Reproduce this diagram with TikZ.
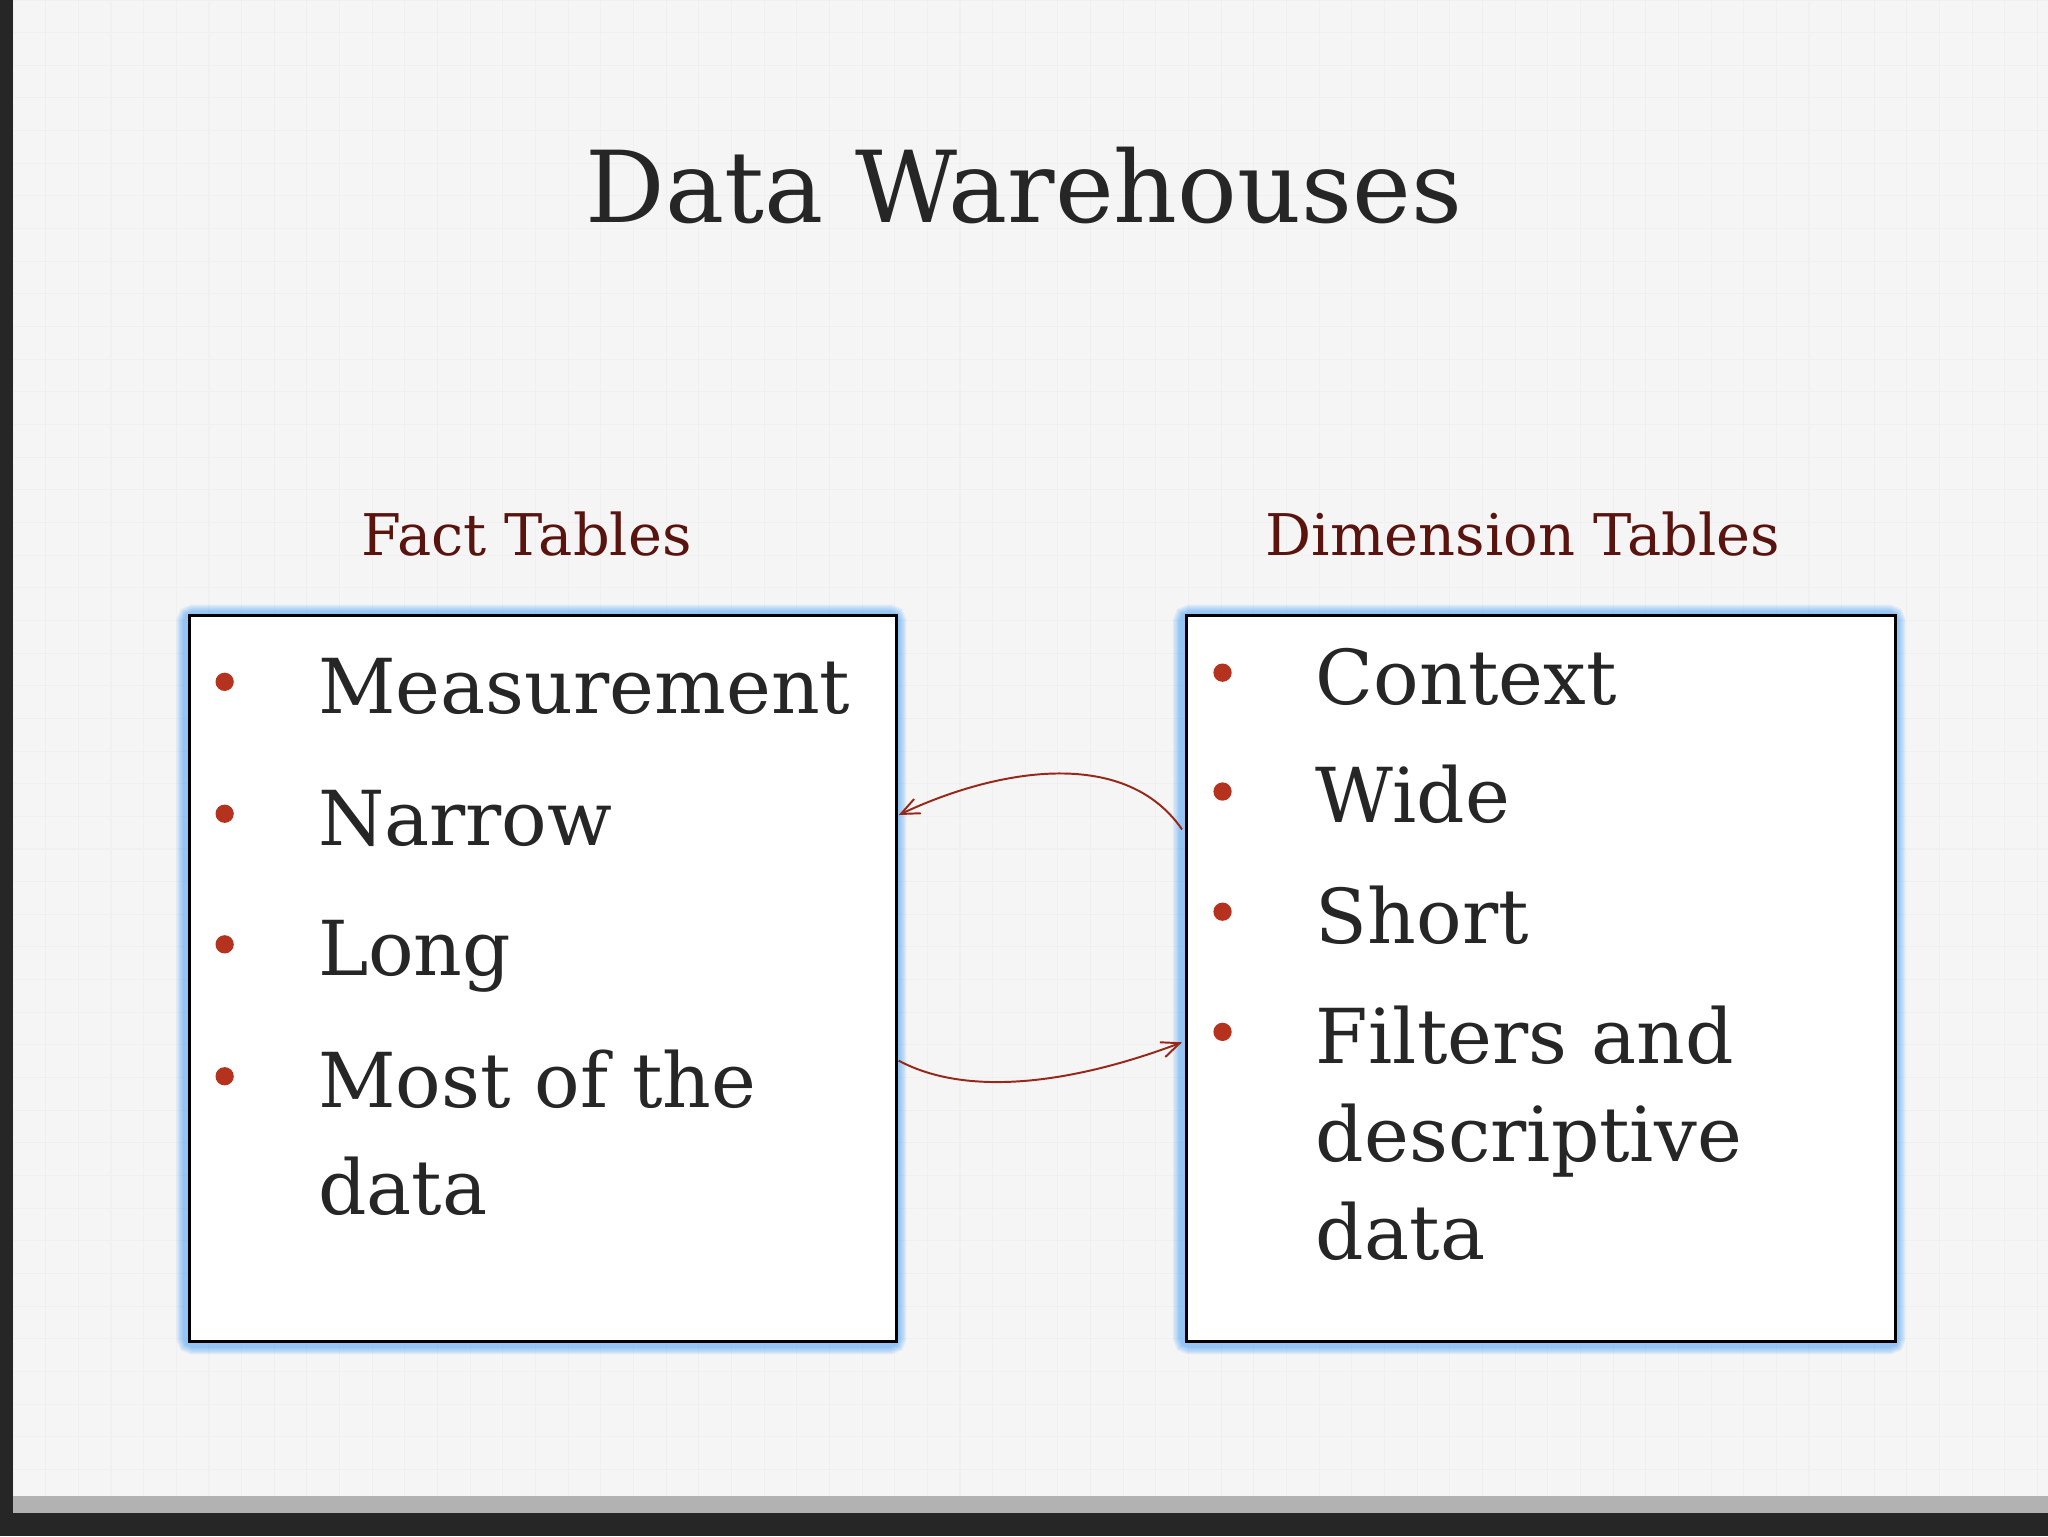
\documentclass[tikz,border=0pt]{standalone}
\usetikzlibrary{arrows.meta}
\usepackage{fontspec}
\setmainfont{DejaVu Serif}
\definecolor{heading}{RGB}{90,20,15}
\definecolor{bul}{RGB}{180,50,30}
\definecolor{arr}{RGB}{150,40,25}
\begin{document}
\begin{tikzpicture}[x=1pt,y=-1pt,
  item/.style={anchor=base west,font=\fontsize{58}{70}\selectfont,text=black!85},
  dot/.style={circle,fill=bul,inner sep=0pt,minimum size=14},
  hd/.style={anchor=base,font=\fontsize{44}{52}\selectfont,text=heading},
  box/.style={draw=black,line width=2.5,fill=white},
  conn/.style={draw=arr,line width=1.5,-{Straight Barb[length=14,width=12]}}]
\useasboundingbox (0,0) rectangle (1568,1176);
\fill[black!85] (0,0) rectangle (1568,1176);
\fill[white!96!black] (10,0) rectangle (1568,1150);
\fill[black!30] (10,1145) rectangle (1568,1158);
\foreach \i in {0,25,...,1550}{\draw[black!6,line width=0.8] (10+\i,0) -- (10+\i,1145);}
\foreach \i in {0,25,...,1140}{\draw[black!6,line width=0.8] (10,\i) -- (1568,\i);}
\node[anchor=base,font=\fontsize{76}{86}\selectfont,text=black!85] (title) at (784,170) {Data Warehouses};
\node[hd] (fh) at (403,425) {Fact Tables};
\node[hd] (dh) at (1166,425) {Dimension Tables};
\foreach \k in {1,...,6}{
  \draw[blue!50!cyan,opacity=0.08,line width=2*\k+6,rounded corners=4] (144,472) rectangle (685,1028);
  \draw[blue!50!cyan,opacity=0.08,line width=2*\k+6,rounded corners=4] (907,472) rectangle (1450,1028);}
\node[box,minimum width=541,minimum height=556,anchor=north west] (L) at (144,470) {};
\node[box,minimum width=543,minimum height=556,anchor=north west] (R) at (907,470) {};
\node[dot] (d1) at (172,522) {};
\node[dot] (d2) at (172,623) {};
\node[dot] (d3) at (172,723) {};
\node[dot] (d4) at (172,824) {};
\node[item] (t1) at (240,546) {Measurement};
\node[item] (t2) at (240,647) {Narrow};
\node[item] (t3) at (240,747) {Long};
\node[item] (t4) at (240,848) {Most of the};
\node[item] (t5) at (240,930) {data};
\node[dot] (e1) at (936,515) {};
\node[dot] (e2) at (936,606) {};
\node[dot] (e3) at (936,698) {};
\node[dot] (e4) at (936,790) {};
\node[item] (u1) at (1004,539) {Context};
\node[item] (u2) at (1004,630) {Wide};
\node[item] (u3) at (1004,722) {Short};
\node[item] (u4) at (1004,814) {Filters and};
\node[item] (u5) at (1004,889) {descriptive};
\node[item] (u6) at (1004,964) {data};
\coordinate (a1) at (905,635);
\coordinate (a2) at (688,624);
\coordinate (b1) at (688,812);
\coordinate (b2) at (905,798);
\draw[conn] (a1) .. controls (860,570) and (760,590) .. (a2);
\draw[conn] (b1) .. controls (740,840) and (820,830) .. (b2);
\end{tikzpicture}
\end{document}
